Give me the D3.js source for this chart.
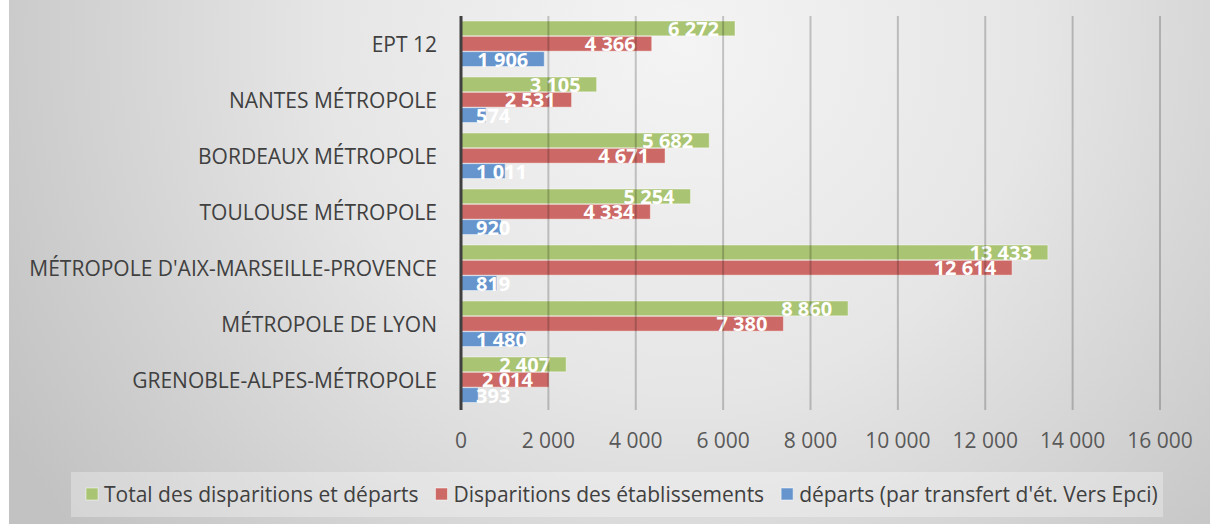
<!DOCTYPE html>
<html>
<head>
<meta charset="utf-8">
<script src="https://cdn.jsdelivr.net/npm/d3@7"></script>
<style>
  body { margin: 0; background: #fff; }
  svg { display: block; font-family: "Open Sans", sans-serif; }
</style>
</head>
<body>
<div id="chart"></div>
<script>
'use strict';

// data, top category first
var categories = ['EPT 12', 'NANTES MÉTROPOLE', 'BORDEAUX MÉTROPOLE', 'TOULOUSE MÉTROPOLE',
  "MÉTROPOLE D'AIX-MARSEILLE-PROVENCE", 'MÉTROPOLE DE LYON', 'GRENOBLE-ALPES-MÉTROPOLE'];
var total = [6272, 3105, 5682, 5254, 13433, 8860, 2407];
var disparitions = [4366, 2531, 4671, 4334, 12614, 7380, 2014];
var departs = [1906, 574, 1011, 920, 819, 1480, 393];
var seriesNames = ['Total des disparitions et départs', 'Disparitions des établissements',
  "départs (par transfert d'ét. Vers Epci)"];
var seriesColors = ['#a9c472', '#cc6966', '#6694cc'];
var tickValues = [0, 2000, 4000, 6000, 8000, 10000, 12000, 14000, 16000];

var width = 1210, height = 525;
var fr = d3.formatLocale({decimal: ',', thousands: ' ', grouping: [3], currency: ['', '€']});
var fmt = fr.format(',');

var svg = d3.select('#chart').append('svg')
  .attr('width', width)
  .attr('height', height);

// grey radial background
var defs = svg.append('defs');
var grad = defs.append('radialGradient')
  .attr('id', 'bg')
  .attr('gradientUnits', 'userSpaceOnUse')
  .attr('cx', 680).attr('cy', 40).attr('r', 780);
grad.append('stop').attr('offset', 0).attr('stop-color', '#f4f4f4');
grad.append('stop').attr('offset', 0.45).attr('stop-color', '#e6e6e6');
grad.append('stop').attr('offset', 1).attr('stop-color', '#c2c2c2');

svg.append('rect')
  .attr('x', 9).attr('y', 0)
  .attr('width', width - 9).attr('height', height - 1)
  .attr('fill', 'url(#bg)');

var x = d3.scaleLinear().domain([0, 16000]).range([461, 1160]);
var y = d3.scaleBand().domain(categories).range([16, 408]);
var sub = d3.scaleBand().domain([0, 1, 2]).range([5, 51]);

var rows = categories.map(function(c, i){
  return {cat: c, vals: [total[i], disparitions[i], departs[i]]};
});

// bars
var groups = svg.selectAll('g.cat').data(rows).enter().append('g')
  .attr('class', 'cat')
  .attr('transform', function(d){ return 'translate(0,' + y(d.cat) + ')'; });

groups.selectAll('rect').data(function(d){ return d.vals; }).enter().append('rect')
  .attr('x', x(0))
  .attr('y', function(d, j){ return sub(j); })
  .attr('width', function(d){ return x(d) - x(0); })
  .attr('height', sub.bandwidth() - 0.5)
  .attr('fill', function(d, j){ return seriesColors[j]; })
  .attr('stroke', 'rgba(255,255,255,0.45)')
  .attr('stroke-width', 1);

// vertical gridlines over the bars
svg.append('g').selectAll('line').data(tickValues.slice(1)).enter().append('line')
  .attr('x1', function(d){ return x(d); })
  .attr('x2', function(d){ return x(d); })
  .attr('y1', 16).attr('y2', 410)
  .attr('stroke', 'rgba(0,0,0,0.2)')
  .attr('stroke-width', 2);

// axis line
svg.append('line')
  .attr('x1', x(0)).attr('x2', x(0))
  .attr('y1', 16).attr('y2', 410)
  .attr('stroke', '#404040')
  .attr('stroke-width', 3);

// value labels, right aligned inside the bar end
groups.selectAll('text.val').data(function(d){ return d.vals; }).enter().append('text')
  .attr('class', 'val')
  .attr('y', function(d, j){ return sub(j) + sub.bandwidth() / 2; })
  .attr('dy', '0.36em')
  .attr('text-anchor', 'end')
  .attr('fill', '#fff')
  .attr('font-size', 20)
  .attr('font-weight', 'bold')
  .text(function(d){ return fmt(d); })
  .attr('x', function(d){
    var w = this.getComputedTextLength();
    return Math.max(x(d) - 16, x(0) + 15 + w);
  });

// category labels
svg.append('g').selectAll('text').data(categories).enter().append('text')
  .attr('x', 437)
  .attr('y', function(d){ return y(d) + y.bandwidth() / 2; })
  .attr('dy', '0.36em')
  .attr('text-anchor', 'end')
  .attr('fill', '#404040')
  .attr('font-size', 21)
  .text(function(d){ return d; });

// x tick labels
svg.append('g').selectAll('text').data(tickValues).enter().append('text')
  .attr('x', function(d){ return x(d); })
  .attr('y', 440)
  .attr('dy', '0.36em')
  .attr('text-anchor', 'middle')
  .attr('fill', '#595959')
  .attr('font-size', 21)
  .text(function(d){ return fmt(d); });

// legend
svg.append('rect')
  .attr('x', 71).attr('y', 472)
  .attr('width', 1092).attr('height', 45)
  .attr('fill', 'rgba(255,255,255,0.3)');

var legend = svg.append('g');
var lx = 86;
seriesNames.forEach(function(name, j){
  legend.append('rect')
    .attr('x', lx).attr('y', 488)
    .attr('width', 12).attr('height', 12)
    .attr('fill', seriesColors[j])
    .attr('stroke', 'rgba(255,255,255,0.5)');
  var t = legend.append('text')
    .attr('x', lx + 18).attr('y', 494)
    .attr('dy', '0.36em')
    .attr('fill', '#404040')
    .attr('font-size', 21)
    .text(name);
  lx += 18 + t.node().getComputedTextLength() + 17;
});
</script>
</body>
</html>
